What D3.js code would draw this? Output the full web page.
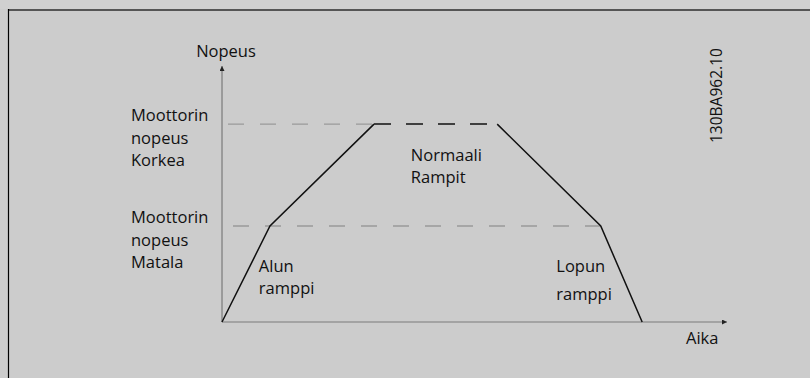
<!DOCTYPE html>
<html>
<head>
<meta charset="utf-8">
<script src="https://cdn.jsdelivr.net/npm/d3@7"></script>
<style>
  html, body { margin: 0; padding: 0; background: #cccccc; }
  svg { display: block; }
  text { font-family: "Open Sans", sans-serif; fill: #111; }
</style>
</head>
<body>
<svg id="chart"></svg>
<script>
// Ramp profile: time (arbitrary units) and speed (% of axis)
const timePoints = [0, 9.5, 30.1, 54.5, 75.0, 83.2];
const speedPoints = [0, 37.5, 77.3, 77.3, 37.5, 0];

// Reference speed levels
const speedLevels = [
  { name: 'high', value: 77.3, end: 30.1 },
  { name: 'low', value: 37.5, end: 75.0 }
];

const yLevelLabels = [
  { lines: ['Moottorin', 'nopeus', 'Korkea'], value: 77.3 },
  { lines: ['Moottorin', 'nopeus', 'Matala'], value: 37.5 }
];

const axisTitles = { y: 'Nopeus', x: 'Aika' };
const rampLabels = [
  { lines: ['Alun', 'ramppi'], t: 7.3, s: 19.5, gap: 21.5 },
  { lines: ['Normaali', 'Rampit'], t: 37.4, s: 62.8, gap: 21.5 },
  { lines: ['Lopun', 'ramppi'], t: 66.2, s: 19.5, gap: 28 }
];
const docCode = '130BA962.10';

const width = 810, height = 378;
const svg = d3.select('#chart').attr('width', width).attr('height', height);

// Background and frame
svg.append('rect').attr('width', width).attr('height', height).attr('fill', '#cccccc');
svg.append('rect').attr('width', width).attr('height', 9).attr('fill', '#d0d0d0');
svg.append('line')
  .attr('x1', 8).attr('x2', width).attr('y1', 10).attr('y2', 10)
  .attr('stroke', '#555').attr('stroke-width', 2);
svg.append('line')
  .attr('x1', 8.5).attr('x2', 8.5).attr('y1', 9).attr('y2', height)
  .attr('stroke', '#000').attr('stroke-width', 1.2);

// Scales
const x = d3.scaleLinear().domain([0, 100]).range([222, 727]);
const y = d3.scaleLinear().domain([0, 100]).range([322, 66]);

// Axes with arrowheads
const defs = svg.append('defs');
defs.append('marker')
  .attr('id', 'arrow')
  .attr('viewBox', '0 0 10 10')
  .attr('refX', 10).attr('refY', 5)
  .attr('markerWidth', 8).attr('markerHeight', 5)
  .attr('markerUnits', 'userSpaceOnUse')
  .attr('orient', 'auto')
  .append('path').attr('d', 'M0,0L10,5L0,10Z').attr('fill', '#222');

svg.append('line')
  .attr('x1', x(0)).attr('x2', x(0)).attr('y1', y(0)).attr('y2', y(100))
  .attr('stroke', '#7a7a7a').attr('stroke-width', 1.2)
  .attr('marker-end', 'url(#arrow)');
svg.append('line')
  .attr('x1', x(0)).attr('x2', x(100)).attr('y1', y(0)).attr('y2', y(0))
  .attr('stroke', '#7a7a7a').attr('stroke-width', 1.2)
  .attr('marker-end', 'url(#arrow)');

// Reference speed levels (dashed)
svg.selectAll('.level')
  .data(speedLevels)
  .enter()
  .append('line')
  .attr('class', 'level')
  .attr('x1', d => x(0) + (d.name === 'high' ? 6 : 11))
  .attr('x2', d => x(d.end))
  .attr('y1', d => y(d.value)).attr('y2', d => y(d.value))
  .attr('stroke', '#999').attr('stroke-width', 1.3)
  .attr('stroke-dasharray', '16,16');

// Ramp profile
const pts = timePoints.map((t, i) => [x(t), y(speedPoints[i])]);
const line = d3.line();
svg.append('path')
  .attr('d', line(pts.slice(0, 3)))
  .attr('fill', 'none').attr('stroke', '#111').attr('stroke-width', 1.5);
svg.append('path')
  .attr('d', line(pts.slice(3)))
  .attr('fill', 'none').attr('stroke', '#111').attr('stroke-width', 1.5);
svg.append('path')
  .attr('d', line(pts.slice(2, 4)))
  .attr('fill', 'none').attr('stroke', '#111').attr('stroke-width', 1.5)
  .attr('stroke-dasharray', '17,15');

const fs = '16.5px';

// Axis titles
svg.append('text')
  .attr('x', x(0) + 4).attr('y', 57)
  .attr('text-anchor', 'middle')
  .style('font-size', fs)
  .text(axisTitles.y);
svg.append('text')
  .attr('x', 686).attr('y', 344)
  .style('font-size', fs)
  .text(axisTitles.x);

// Level labels
yLevelLabels.forEach(d => {
  const base = y(d.value) - 3;
  const t = svg.append('text')
    .attr('x', 131).attr('y', base)
    .style('font-size', fs);
  d.lines.forEach((l, i) => {
    t.append('tspan').attr('x', 131).attr('y', base + i * 22.5).text(l);
  });
});

// Ramp labels
rampLabels.forEach(d => {
  const t = svg.append('text').style('font-size', fs);
  d.lines.forEach((l, i) => {
    t.append('tspan')
      .attr('x', x(d.t))
      .attr('y', y(d.s) + i * d.gap)
      .text(l);
  });
});

// Document code (rotated)
svg.append('text')
  .attr('transform', 'translate(722,143) rotate(-90)')
  .style('font-size', '15.5px')
  .text(docCode);
</script>
</body>
</html>
